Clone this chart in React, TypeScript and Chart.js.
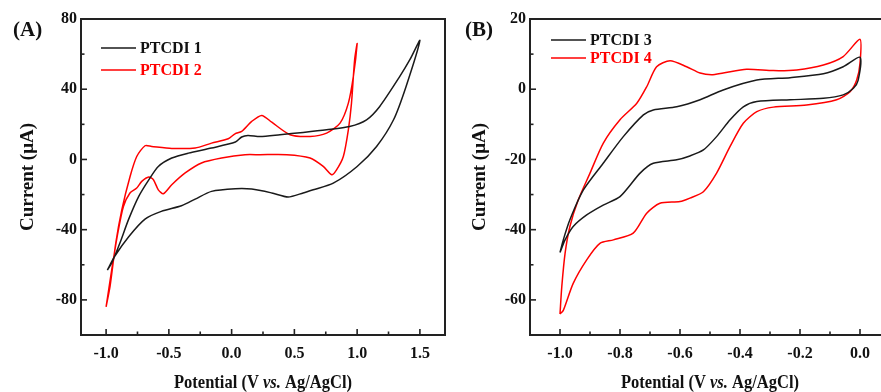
import React, { useEffect, useRef } from "react";
import { Chart, registerables } from "chart.js";

Chart.register(...registerables);

// ---------- data ----------
// Panel A: PTCDI 1 (black), PTCDI 2 (red) — [potential V, current µA]
const ptcdi1: [number, number][] = [
  [-0.99, -63], [-0.93, -55], [-0.82, -44], [-0.69, -34], [-0.56, -29.6], [-0.4, -26.4],
  [-0.29, -22.6], [-0.16, -18.2], [0.03, -16.7], [0.16, -16.9], [0.32, -19.1], [0.45, -21.4],
  [0.57, -19.1], [0.65, -17.3], [0.81, -13.5], [1.0, -4], [1.155, 7.4], [1.29, 22.6],
  [1.39, 41.6], [1.5, 67.8],
  [1.42, 56.8], [1.34, 47.3], [1.18, 30.2], [1.075, 22.6], [0.94, 18.8], [0.757, 16.9],
  [0.57, 15.4], [0.385, 14.1], [0.226, 13.1], [0.13, 13.7], [0.08, 12.8], [0.03, 9.9],
  [-0.16, 6.5], [-0.345, 3.6], [-0.477, 0.8], [-0.584, -4], [-0.66, -11.6], [-0.74, -21],
  [-0.82, -34], [-0.89, -47.6], [-0.955, -59], [-0.99, -63],
];
const ptcdi2: [number, number][] = [
  [-1.0, -84], [-0.968, -72], [-0.923, -47.6], [-0.875, -28.7], [-0.809, -9.7], [-0.756, 1.7],
  [-0.69, 7.8], [-0.637, 7.4], [-0.477, 6.3], [-0.29, 6.5], [-0.16, 9.3], [-0.027, 11.8],
  [0.027, 14.6], [0.08, 16], [0.16, 21.7], [0.24, 25.1], [0.32, 21.2], [0.465, 14.1],
  [0.625, 13.1], [0.757, 15], [0.864, 20.7], [0.93, 32.1], [0.97, 47.3], [1.0, 66],
  [0.98, 56.8], [0.955, 32.1], [0.93, 16.9], [0.89, 1.7], [0.836, -5.9], [0.797, -8.7],
  [0.73, -4], [0.625, 0.8], [0.44, 2.7], [0.226, 2.7], [0.107, 2.7], [-0.08, 0.8],
  [-0.24, -2], [-0.37, -7.7], [-0.477, -14.4], [-0.544, -19.5], [-0.584, -17.3],
  [-0.623, -11.6], [-0.66, -10], [-0.716, -12.5], [-0.756, -16.3], [-0.81, -19.1],
  [-0.862, -26.8], [-0.907, -42], [-0.955, -62.8], [-1.0, -84],
];
// Panel B: PTCDI 3 (black), PTCDI 4 (red)
const ptcdi3: [number, number][] = [
  [-1.0, -46.5], [-0.989, -42.9], [-0.967, -37.2], [-0.922, -28.7], [-0.856, -21.1],
  [-0.789, -13.5], [-0.722, -7.3], [-0.689, -5.9], [-0.611, -5], [-0.533, -3], [-0.456, -0.2],
  [-0.344, 2.6], [-0.233, 3.3], [-0.122, 4.4], [-0.056, 6.4], [0, 9.1],
  [-0.006, 2.6], [-0.022, 0.3], [-0.056, -1.6], [-0.122, -2.6], [-0.233, -3], [-0.344, -3.5],
  [-0.389, -5], [-0.433, -8.7], [-0.478, -13.5], [-0.522, -17.3], [-0.567, -19], [-0.611, -20.1],
  [-0.689, -21.1], [-0.733, -23.9], [-0.8, -30.6], [-0.856, -33], [-0.911, -35.8],
  [-0.956, -39.1], [-0.983, -42.9], [-1.0, -46.5],
];
const ptcdi4: [number, number][] = [
  [-1.0, -64], [-0.994, -56.2], [-0.983, -46.7], [-0.967, -39.1], [-0.939, -31.5], [-0.9, -23.9],
  [-0.856, -15.4], [-0.8, -8.7], [-0.744, -4], [-0.711, 0.7], [-0.678, 6.4], [-0.633, 8.1],
  [-0.578, 6.4], [-0.533, 4.6], [-0.495, 4.1], [-0.456, 4.6], [-0.378, 5.7], [-0.289, 5.3],
  [-0.211, 5.5], [-0.122, 6.9], [-0.056, 9.3], [0, 14.2],
  [0, 7.4], [-0.011, 2.6], [-0.033, -0.7], [-0.078, -3], [-0.178, -4.5], [-0.289, -5.1],
  [-0.344, -6.4], [-0.389, -9.7], [-0.433, -16.3], [-0.478, -23.9], [-0.522, -29.2],
  [-0.567, -31], [-0.6, -32], [-0.667, -32.5], [-0.711, -35.3], [-0.756, -41], [-0.822, -42.9],
  [-0.867, -43.9], [-0.911, -48.6], [-0.956, -55.3], [-0.989, -63], [-1.0, -64],
];

// ticks
const xTicksA = [-1.0, -0.5, 0.0, 0.5, 1.0, 1.5];
const xMinorA = [-0.75, -0.25, 0.25, 0.75, 1.25];
const yTicksA = [80, 40, 0, -40, -80];
const yMinorA = [60, 20, -20, -60];
const xTicksB = [-1.0, -0.8, -0.6, -0.4, -0.2, 0.0];
const xMinorB = [-0.9, -0.7, -0.5, -0.3, -0.1];
const yTicksB = [20, 0, -20, -40, -60];
const yMinorB = [10, -10, -30, -50];

const labelsA = ["PTCDI 1", "PTCDI 2"];
const labelsB = ["PTCDI 3", "PTCDI 4"];
const xTitle = ["Potential (V ", "vs.", " Ag/AgCl)"];
const yTitle = "Current (\u03bcA)";

// ---------- styling ----------
const FONT = "'Liberation Serif', 'Times New Roman', serif";
const BLACK = "#1a1a1a";
const RED = "#ff0000";
const AXIS = "#222222";

type Panel = {
  id: string;
  letter: string;
  series: [number, number][][];
  names: string[];
  xMin: number; xMax: number; yMin: number; yMax: number;
  xTicks: number[]; xMinor: number[]; yTicks: number[]; yMinor: number[];
  yAxisWidth: number; padRight: number;
  letterX: number; yTitleX: number;
  legendX: number; legendY: number[];
};

function decorPlugin(p: Panel) {
  return {
    id: "decor" + p.id,
    afterDraw(chart: any) {
      const { ctx, chartArea: a, scales } = chart;
      const x = scales.x, y = scales.y;
      ctx.save();
      // frame
      ctx.strokeStyle = AXIS;
      ctx.lineWidth = 2;
      ctx.strokeRect(a.left, a.top, a.right - a.left, a.bottom - a.top);
      // inward ticks
      ctx.lineWidth = 1.6;
      const tick = (x1: number, y1: number, x2: number, y2: number) => {
        ctx.beginPath(); ctx.moveTo(x1, y1); ctx.lineTo(x2, y2); ctx.stroke();
      };
      p.xTicks.forEach(v => { const px = x.getPixelForValue(v); tick(px, a.bottom, px, a.bottom - 6); });
      p.xMinor.forEach(v => { const px = x.getPixelForValue(v); tick(px, a.bottom, px, a.bottom - 3.5); });
      p.yTicks.forEach(v => { const py = y.getPixelForValue(v); tick(a.left, py, a.left + 6, py); });
      p.yMinor.forEach(v => { const py = y.getPixelForValue(v); tick(a.left, py, a.left + 3.5, py); });

      // legend
      const cols = [BLACK, RED];
      p.names.forEach((n, i) => {
        const ly = p.legendY[i];
        ctx.strokeStyle = cols[i];
        ctx.lineWidth = 1.6;
        tick(p.legendX, ly, p.legendX + 35, ly);
        ctx.fillStyle = i === 0 ? "#111" : RED;
        ctx.font = `bold 16px ${FONT}`;
        ctx.textBaseline = "middle";
        ctx.textAlign = "left";
        ctx.fillText(n, p.legendX + 39, ly + 1);
      });

      // panel letter
      ctx.fillStyle = "#111";
      ctx.font = `bold 21px ${FONT}`;
      ctx.textBaseline = "alphabetic";
      ctx.textAlign = "left";
      ctx.fillText(p.letter, p.letterX, 36);

      // x title with italic "vs."
      const fonts = [`bold 19px ${FONT}`, `italic bold 19px ${FONT}`, `bold 19px ${FONT}`];
      let total = 0;
      const widths = xTitle.map((s, i) => { ctx.font = fonts[i]; const w = ctx.measureText(s).width; total += w; return w; });
      const target = 178;
      const sx = target / total;
      const cx = (a.left + Math.min(a.right, chart.width)) / 2;
      const cxA = p.id === "A" ? (a.left + a.right) / 2 : (a.left + a.right) / 2;
      ctx.save();
      ctx.translate(cxA - target / 2, 388);
      ctx.scale(sx, 1);
      let off = 0;
      xTitle.forEach((s, i) => { ctx.font = fonts[i]; ctx.fillText(s, off, 0); off += widths[i]; });
      ctx.restore();
      void cx;

      // y title
      ctx.save();
      ctx.translate(p.yTitleX, (a.top + a.bottom) / 2);
      ctx.rotate(-Math.PI / 2);
      ctx.font = `bold 19px ${FONT}`;
      ctx.textAlign = "center";
      ctx.textBaseline = "middle";
      ctx.fillText(yTitle, 0, 0);
      ctx.restore();

      ctx.restore();
    },
  };
}

function makeConfig(p: Panel): any {
  const tickFont = { family: FONT, size: 16, weight: "bold" as const };
  return {
    type: "scatter",
    data: {
      datasets: p.series.map((s, i) => ({
        label: p.names[i],
        data: s.map(([v, c]) => ({ x: v, y: c })),
        showLine: true,
        borderColor: i === 0 ? BLACK : RED,
        borderWidth: 1.5,
        pointRadius: 0,
        tension: 0.25,
        fill: false,
      })),
    },
    options: {
      responsive: false,
      animation: false,
      events: [],
      layout: { padding: { top: 19, right: p.padRight, left: 0, bottom: 0 } },
      plugins: { legend: { display: false }, tooltip: { enabled: false } },
      scales: {
        x: {
          type: "linear",
          min: p.xMin,
          max: p.xMax,
          afterBuildTicks: (s: any) => { s.ticks = p.xTicks.map(v => ({ value: v })); },
          afterFit: (s: any) => { s.height = 57; },
          grid: { display: false, drawTicks: false },
          border: { display: false },
          ticks: {
            font: tickFont, color: "#111", padding: 9, maxRotation: 0, autoSkip: false,
            callback: (v: any) => Number(v).toFixed(1),
          },
        },
        y: {
          type: "linear",
          min: p.yMin,
          max: p.yMax,
          afterBuildTicks: (s: any) => { s.ticks = p.yTicks.map(v => ({ value: v })); },
          afterFit: (s: any) => { s.width = p.yAxisWidth; },
          grid: { display: false, drawTicks: false },
          border: { display: false },
          ticks: {
            font: tickFont, color: "#111", padding: 4, autoSkip: false,
            callback: (v: any) => String(v),
          },
        },
      },
    },
    plugins: [decorPlugin(p)],
  };
}

const panelA: Panel = {
  id: "A", letter: "(A)", series: [ptcdi1, ptcdi2], names: labelsA,
  xMin: -1.2, xMax: 1.7, yMin: -100, yMax: 80,
  xTicks: xTicksA, xMinor: xMinorA, yTicks: yTicksA, yMinor: yMinorA,
  yAxisWidth: 81, padRight: 5, letterX: 13, yTitleX: 28,
  legendX: 101, legendY: [48, 70],
};
const panelB: Panel = {
  id: "B", letter: "(B)", series: [ptcdi3, ptcdi4], names: labelsB,
  xMin: -1.1, xMax: 0.1, yMin: -70, yMax: 20,
  xTicks: xTicksB, xMinor: xMinorB, yTicks: yTicksB, yMinor: yMinorB,
  yAxisWidth: 84, padRight: 6, letterX: 19, yTitleX: 34,
  legendX: 105, legendY: [40, 58],
};

function PanelChart({ p, left }: { p: Panel; left: number }) {
  const ref = useRef<HTMLCanvasElement | null>(null);
  useEffect(() => {
    if (!ref.current) return;
    const chart = new Chart(ref.current, makeConfig(p));
    return () => chart.destroy();
  }, [p]);
  return (
    <canvas
      ref={ref}
      width={450}
      height={392}
      style={{ position: "absolute", left, top: 0, width: 450, height: 392 }}
    />
  );
}

export default function App() {
  return (
    <div
      style={{
        position: "fixed", left: 0, top: 0, width: 881, height: 392,
        overflow: "hidden", background: "#fff",
      }}
    >
      <PanelChart p={panelA} left={0} />
      <PanelChart p={panelB} left={446} />
    </div>
  );
}
